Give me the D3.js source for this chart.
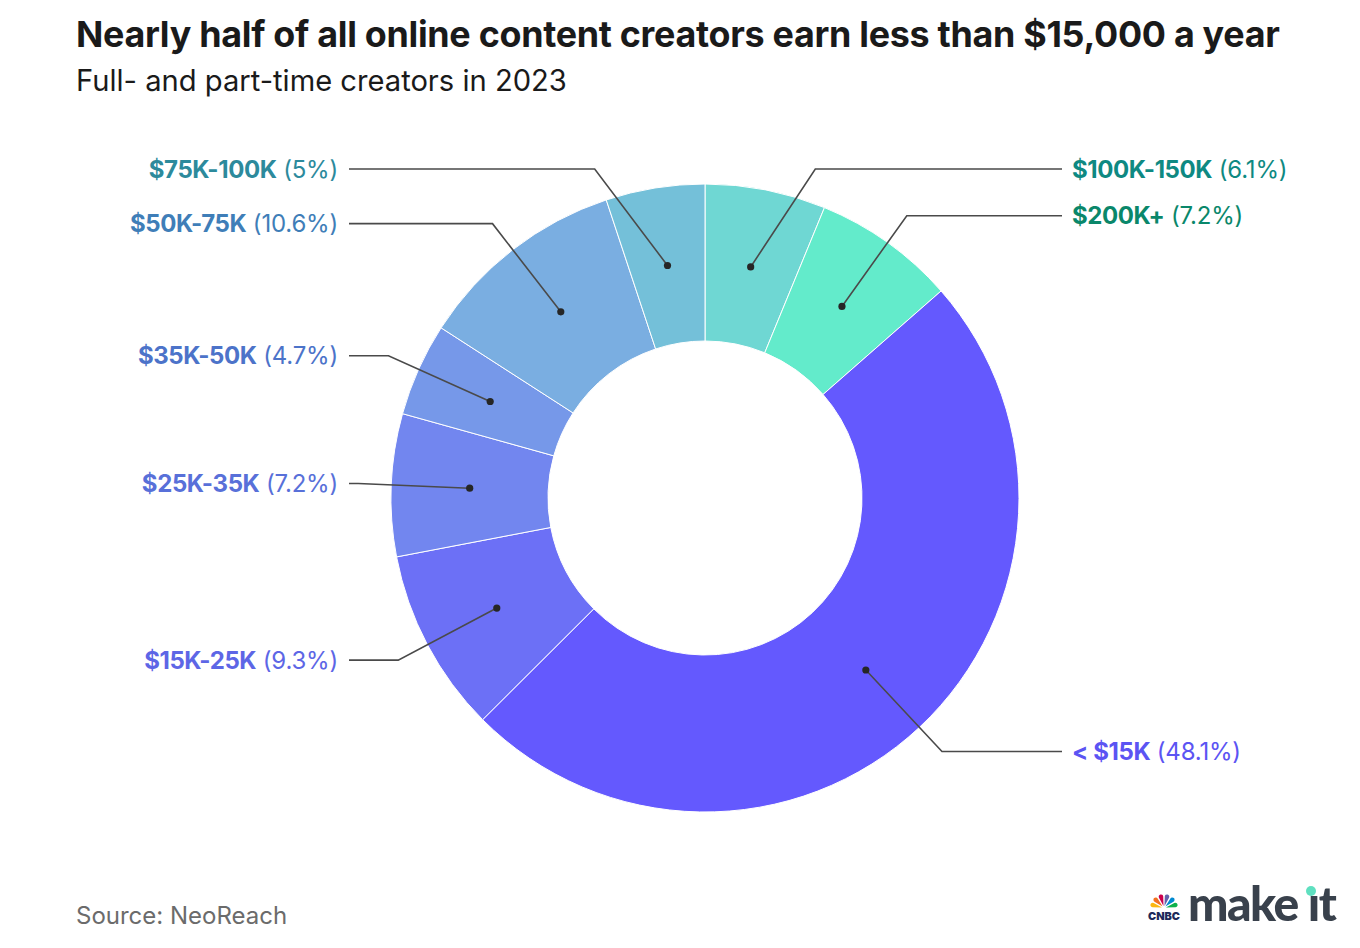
<!DOCTYPE html>
<html>
<head>
<meta charset="utf-8">
<script src="https://cdn.jsdelivr.net/npm/d3@7"></script>
<style>
  body { margin: 0; background: #ffffff; }
  svg { display: block; font-family: "Inter", "Lato", sans-serif; }
</style>
</head>
<body>
<div id="chart"></div>
<script>
// slices, clockwise from 12 o'clock
let categories = ["$100K-150K", "$200K+", "< $15K", "$15K-25K", "$25K-35K", "$35K-50K", "$50K-75K", "$75K-100K"];
let shares = [6.1, 7.2, 48.1, 9.3, 7.2, 4.7, 10.6, 5];
let share_labels = ["(6.1%)", "(7.2%)", "(48.1%)", "(9.3%)", "(7.2%)", "(4.7%)", "(10.6%)", "(5%)"];
let slice_colors = ["#6fd7d3", "#63ebcb", "#6459fe", "#6c70f6", "#7286ef", "#7698e9", "#7aaee1", "#74c0d9"];
let label_colors = ["#0e8982", "#0a876a", "#5b54f3", "#5d66e6", "#5870d9", "#4c73c9", "#3f7eb8", "#2c8a9c"];

let title_text = "Nearly half of all online content creators earn less than $15,000 a year";
let subtitle_text = "Full- and part-time creators in 2023";
let source_text = "Source: NeoReach";

let width = 1360;
let height = 948;

let cx = 705;
let cy = 498;
let outer_r = 314;
let inner_r = 157;
let elbow_r = 347;
let label_top = 169;

let svg = d3.select("#chart")
            .append("svg")
            .attr("width", width)
            .attr("height", height);

function fit_text(sel, target_width) {
    let w = sel.node().getComputedTextLength();
    let fs = parseFloat(sel.attr("font-size"));
    sel.attr("font-size", fs * target_width / w);
}

// titles
let title = svg.append("text")
    .attr("x", 76)
    .attr("y", 47)
    .attr("font-size", 30)
    .attr("font-weight", 700)
    .attr("fill", "#1a1a1a")
    .attr("letter-spacing", -0.3)
    .text(title_text);
fit_text(title, 1200);

let subtitle = svg.append("text")
    .attr("x", 76)
    .attr("y", 91)
    .attr("font-size", 24)
    .attr("fill", "#1a1a1a")
    .text(subtitle_text);
fit_text(subtitle, 491);

let data = categories.map((c, i) => ({ name: c, value: shares[i], pct: share_labels[i], color: slice_colors[i], lcolor: label_colors[i] }));

let pie = d3.pie().sort(null).value(d => d.value);
let arcs = pie(data);

let arc = d3.arc().innerRadius(inner_r).outerRadius(outer_r);

let g = svg.append("g")
    .attr("transform", "translate(" + cx + "," + cy + ")");

g.selectAll("path.slice")
    .data(arcs)
    .enter()
    .append("path")
    .attr("class", "slice")
    .attr("d", arc)
    .attr("fill", d => d.data.color)
    .attr("stroke", "white")
    .attr("stroke-width", 1);

// leader lines + labels
for (let a of arcs) {
    let mid = (a.startAngle + a.endAngle) / 2;
    let c = arc.centroid(a);
    let right = Math.sin(mid) > 0;
    let ly = Math.max(-elbow_r * Math.cos(mid), label_top - cy);
    let ex = Math.sqrt(elbow_r * elbow_r - ly * ly) * (right ? 1 : -1);
    let end_x = right ? 1062 - cx : 349 - cx;

    g.append("polyline")
        .attr("points", [c, [ex, ly], [end_x, ly]].map(p => p.join(",")).join(" "))
        .attr("fill", "none")
        .attr("stroke", "#4a4a4a")
        .attr("stroke-width", 1.6);

    g.append("circle")
        .attr("cx", c[0])
        .attr("cy", c[1])
        .attr("r", 3.6)
        .attr("fill", "#262626");

    let t = g.append("text")
        .attr("x", right ? end_x + 10 : end_x - 11)
        .attr("y", ly)
        .attr("dy", "0.36em")
        .attr("text-anchor", right ? "start" : "end")
        .attr("font-size", 24)
        .attr("fill", a.data.lcolor);
    t.append("tspan").attr("font-weight", 700).attr("letter-spacing", -0.4).text(a.data.name);
    t.append("tspan").attr("font-weight", 400).attr("letter-spacing", -0.2).text(" " + a.data.pct);
}

// source
svg.append("text")
    .attr("x", 76)
    .attr("y", 924)
    .attr("font-size", 24)
    .attr("fill", "#6b6b6b")
    .text(source_text);

// logo: peacock + make it
let logo = svg.append("g");
let feather_colors = ["#fcb711", "#f37021", "#cc004c", "#6460aa", "#0089d0", "#0db14b"];
let feather = d3.arc().innerRadius(2).outerRadius(14).padAngle(0.12).cornerRadius(3);
let fstep = Math.PI / feather_colors.length;
logo.selectAll("path.feather")
    .data(feather_colors)
    .enter()
    .append("path")
    .attr("transform", "translate(1164,908)")
    .attr("d", (d, i) => feather({ startAngle: -Math.PI / 2 + i * fstep, endAngle: -Math.PI / 2 + (i + 1) * fstep }))
    .attr("fill", d => d);
let cnbc = logo.append("text")
    .attr("x", 1148)
    .attr("y", 920)
    .attr("font-size", 10)
    .attr("font-weight", 900)
    .attr("fill", "#1d2a5a")
    .text("CNBC");
fit_text(cnbc, 32);

let mk = logo.append("text")
    .attr("x", 1188)
    .attr("y", 921)
    .attr("font-size", 46)
    .attr("font-weight", 900)
    .attr("fill", "#39414c")
    .attr("letter-spacing", -1.5)
    .style("font-family", "Lato, sans-serif")
    .text("make \u0131t");
fit_text(mk, 147);
logo.append("circle")
    .attr("cx", 1311)
    .attr("cy", 891)
    .attr("r", 5)
    .attr("fill", "#5fe0c0");
</script>
</body>
</html>
